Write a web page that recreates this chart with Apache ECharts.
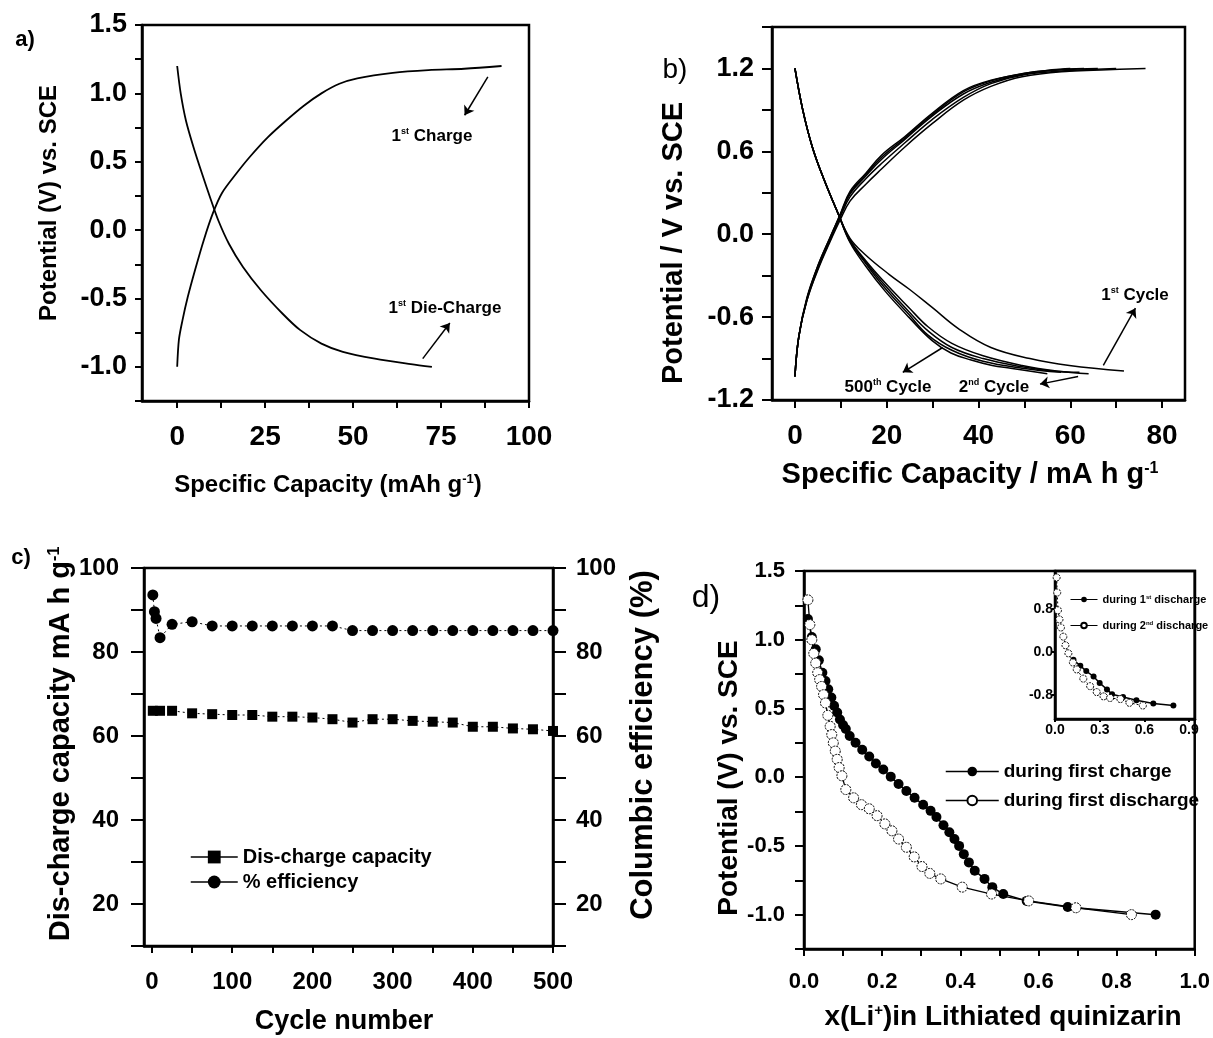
<!DOCTYPE html>
<html>
<head>
<meta charset="utf-8">
<script src="https://cdn.jsdelivr.net/npm/echarts@6/dist/echarts.min.js"></script>
<style>
html, body { margin: 0; padding: 0; background: #fff; }
#chart { width: 1213px; height: 1038px; }
</style>
</head>
<body>
<div id="chart"></div>
<script>
/* 面板 a：首次充放电曲线 */
var aChargeX = [0, 0.5, 1.5, 3.0, 5.1, 7.6, 10.1, 12.7, 16.7, 20.8, 25.8, 30.9, 36, 41, 46.1, 51.2, 61.3, 71.4, 81.6, 92.2];
var aChargeY = [-1.0, -0.80, -0.66, -0.49, -0.29, -0.07, 0.12, 0.27, 0.41, 0.54, 0.68, 0.80, 0.91, 1.0, 1.07, 1.11, 1.15, 1.17, 1.18, 1.2];
var aDisX = [0, 1.0, 2.5, 4.6, 7.1, 9.6, 11.7, 14.7, 18.7, 23.8, 29.9, 34.9, 41, 47.1, 56.2, 66.4, 72.4];
var aDisY = [1.2, 1.0, 0.80, 0.61, 0.41, 0.22, 0.07, -0.10, -0.27, -0.44, -0.61, -0.73, -0.83, -0.89, -0.94, -0.98, -1.0];
var aXLabels = [0, 25, 50, 75, 100];
var aXTicks = [0, 12.5, 25, 37.5, 50, 62.5, 75, 87.5, 100];
var aYLabels = [-1.0, -0.5, 0.0, 0.5, 1.0, 1.5];
var aYTicks = [-1.25, -1.0, -0.75, -0.5, -0.25, 0, 0.25, 0.5, 0.75, 1.0, 1.25, 1.5];

/* 面板 b：多次循环 */
var bCharge1 = [[0,-1.03],[0.85,-0.74],[2.6,-0.48],[5.1,-0.25],[7.7,-0.05],[9.8,0.1],[12,0.24],[15.4,0.36],[18.8,0.47],[23.9,0.63],[29.9,0.8],[36.7,0.97],[42.7,1.07],[49.5,1.14],[59.8,1.18],[68,1.19],[76.4,1.2]];
var bCharge2 = [[0,-1.03],[0.85,-0.74],[2.6,-0.48],[5.1,-0.24],[7.7,-0.04],[9.8,0.12],[12,0.27],[15.4,0.4],[18.8,0.51],[23.9,0.66],[29.9,0.83],[36.7,0.99],[42.7,1.09],[50,1.155],[60,1.185],[70,1.2]];
var bCharge100 = [[0,-1.03],[0.85,-0.74],[2.6,-0.47],[5.1,-0.23],[7.7,-0.03],[9.8,0.13],[12,0.29],[15.4,0.42],[18.8,0.54],[23.9,0.685],[29.9,0.855],[36.7,1.015],[42.7,1.1],[50,1.16],[58,1.19],[66,1.2]];
var bCharge250 = [[0,-1.03],[0.85,-0.74],[2.6,-0.47],[5.1,-0.22],[7.7,-0.02],[9.8,0.135],[12,0.3],[15.4,0.43],[18.8,0.555],[23.9,0.695],[29.9,0.865],[36.7,1.03],[42.7,1.11],[50,1.165],[57,1.19],[63,1.2]];
var bCharge500 = [[0,-1.03],[0.85,-0.74],[2.6,-0.46],[5.1,-0.22],[7.7,-0.02],[9.8,0.14],[12,0.31],[15.4,0.44],[18.8,0.57],[23.9,0.705],[29.9,0.875],[36.7,1.04],[42.7,1.115],[51.2,1.17],[56,1.19],[60,1.2]];
var bDis1 = [[0,1.2],[1.7,0.9],[3.8,0.63],[6.4,0.39],[9.4,0.15],[12,-0.03],[15.4,-0.15],[20.5,-0.29],[25,-0.4],[29.9,-0.53],[35.9,-0.69],[42.7,-0.82],[51.2,-0.9],[59.8,-0.95],[71.7,-0.99]];
var bDis2 = [[0,1.2],[1.7,0.9],[3.8,0.63],[6.4,0.39],[9.4,0.15],[12,-0.04],[15.4,-0.19],[19.6,-0.35],[24.8,-0.53],[29,-0.67],[34.2,-0.79],[41,-0.88],[49.5,-0.95],[57,-0.99],[64,-1.01]];
var bDis100 = [[0,1.2],[1.7,0.9],[3.8,0.63],[6.4,0.39],[9.4,0.15],[12,-0.05],[15.4,-0.2],[19.6,-0.37],[24.8,-0.56],[29,-0.7],[34.2,-0.82],[41,-0.9],[49.5,-0.96],[56,-0.99],[62,-1.0]];
var bDis250 = [[0,1.2],[1.7,0.9],[3.8,0.63],[6.4,0.39],[9.4,0.15],[12,-0.05],[15.4,-0.21],[19.6,-0.39],[24.8,-0.58],[29,-0.73],[34.2,-0.84],[41,-0.92],[49.5,-0.97],[58,-1.0]];
var bDis500 = [[0,1.2],[1.7,0.9],[3.8,0.63],[6.4,0.39],[9.4,0.15],[12,-0.06],[15.4,-0.23],[19.6,-0.41],[24.8,-0.6],[29.9,-0.77],[34,-0.86],[38.4,-0.91],[43,-0.95],[47,-0.97],[55,-1.01]];
var bXLabels = [0, 20, 40, 60, 80];
var bXTicks = [0, 10, 20, 30, 40, 50, 60, 70, 80];
var bYLabels = [-1.2, -0.6, 0.0, 0.6, 1.2];
var bYTicks = [-1.2, -0.9, -0.6, -0.3, 0, 0.3, 0.6, 0.9, 1.2, 1.5];

/* 面板 c：循环性能 */
var capX = [1, 10, 25, 50, 75, 100, 125, 150, 175, 200, 225, 250, 275, 300, 325, 350, 375, 400, 425, 450, 475, 500];
var capY = [66, 66, 66, 65.4, 65.2, 65, 65, 64.6, 64.6, 64.4, 64, 63.2, 64, 64, 63.6, 63.4, 63.2, 62.2, 62.2, 61.8, 61.6, 61.2];
var effX = [1, 3, 5, 10, 25, 50, 75, 100, 125, 150, 175, 200, 225, 250, 275, 300, 325, 350, 375, 400, 425, 450, 475, 500];
var effY = [93.6, 89.6, 88, 83.4, 86.6, 87.2, 86.2, 86.2, 86.2, 86.2, 86.2, 86.2, 86.2, 85.1, 85.1, 85.1, 85.1, 85.1, 85.1, 85.1, 85.1, 85.1, 85.1, 85.1];
var cXLabels = [0, 100, 200, 300, 400, 500];
var cXTicks = [0, 50, 100, 150, 200, 250, 300, 350, 400, 450, 500];
var cYLabels = [20, 40, 60, 80, 100];
var cYTicks = [10, 20, 30, 40, 50, 60, 70, 80, 90, 100];

/* 面板 d：锂化程度 */
var dChargeX = [0.01,0.02,0.03,0.038,0.047,0.055,0.062,0.07,0.077,0.085,0.092,0.1,0.107,0.117,0.132,0.149,0.167,0.184,0.203,0.222,0.242,0.262,0.283,0.305,0.324,0.339,0.357,0.372,0.385,0.397,0.409,0.422,0.437,0.462,0.482,0.51,0.57,0.675,0.9];
var dChargeY = [1.15,1.02,0.93,0.85,0.76,0.70,0.64,0.58,0.52,0.47,0.42,0.38,0.35,0.30,0.25,0.20,0.15,0.10,0.056,0.004,-0.05,-0.10,-0.15,-0.20,-0.245,-0.29,-0.35,-0.40,-0.45,-0.50,-0.56,-0.62,-0.68,-0.74,-0.80,-0.85,-0.90,-0.945,-1.0];
var dDisX = [0.01,0.015,0.02,0.025,0.03,0.035,0.04,0.045,0.05,0.055,0.061,0.067,0.071,0.075,0.08,0.085,0.09,0.097,0.107,0.127,0.147,0.167,0.187,0.207,0.225,0.242,0.262,0.282,0.302,0.322,0.35,0.405,0.48,0.575,0.696,0.838];
var dDisY = [1.29,1.11,1.0,0.90,0.83,0.76,0.71,0.66,0.60,0.54,0.45,0.37,0.31,0.25,0.19,0.13,0.07,0.01,-0.09,-0.15,-0.20,-0.23,-0.28,-0.34,-0.39,-0.45,-0.51,-0.58,-0.65,-0.70,-0.74,-0.80,-0.85,-0.90,-0.95,-1.0];
var dXLabels = [0, 0.2, 0.4, 0.6, 0.8, 1.0];
var dXTicks = [0, 0.1, 0.2, 0.3, 0.4, 0.5, 0.6, 0.7, 0.8, 0.9, 1.0];
var dYLabels = [-1.0, -0.5, 0.0, 0.5, 1.0, 1.5];
var dYTicks = [-1.25, -1.0, -0.75, -0.5, -0.25, 0, 0.25, 0.5, 0.75, 1.0, 1.25, 1.5];

/* 插图 */
var inDis1X = [0.124, 0.17, 0.21, 0.259, 0.3, 0.349, 0.383, 0.457, 0.547, 0.66, 0.795];
var inDis1Y = [-0.15, -0.26, -0.36, -0.46, -0.58, -0.70, -0.79, -0.84, -0.90, -0.96, -1.0];
var inDis2X = [0.011, 0.015, 0.02, 0.03, 0.04, 0.056, 0.07, 0.09, 0.12, 0.146, 0.19, 0.236, 0.28, 0.326, 0.37, 0.439, 0.5, 0.59];
var inDis2Y = [1.38, 1.1, 0.77, 0.6, 0.45, 0.28, 0.12, -0.03, -0.2, -0.33, -0.5, -0.64, -0.75, -0.83, -0.86, -0.88, -0.95, -1.0];
var inXLabels = [0, 0.3, 0.6, 0.9];
var inYLabels = [-0.8, 0.0, 0.8];

var FONT = 'Liberation Sans';

function pairs(xs, ys) {
    return xs.map(function (x, i) { return [x, ys[i]]; });
}

function fixed1(v) { return Number(v).toFixed(1); }
function plain(v) { return String(v); }

function axis(o) {
    return {
        type: 'value', gridIndex: o.grid, min: o.min, max: o.max, position: o.position,
        axisLine: { show: true, onZero: false, lineStyle: { color: '#000', width: 2.5 } },
        axisTick: { show: true, inside: false, length: o.tickLen, customValues: o.ticks, lineStyle: { color: '#000', width: 2 } },
        axisLabel: {
            customValues: o.labels, margin: o.margin, color: '#000', fontFamily: FONT,
            fontWeight: 'bold', fontSize: o.fontSize, formatter: o.fmt
        },
        splitLine: { show: false }
    };
}

function text(x, y, str, size, weight, rotate) {
    return {
        type: 'text', x: x, y: y, rotation: rotate ? Math.PI / 2 : 0,
        style: {
            text: str, fill: '#000', fontFamily: FONT, fontSize: size, fontWeight: weight,
            align: 'center', verticalAlign: 'middle', textAlign: 'center', textVerticalAlign: 'middle',
            rich: {
                sup: { fontFamily: FONT, fontSize: Math.round(size * 0.55), fontWeight: weight, fill: '#000', verticalAlign: 'top' }
            }
        }
    };
}

function arrows(list) {
    return {
        silent: true, symbol: ['none', 'arrow'], symbolSize: 9, animation: false,
        label: { show: false },
        lineStyle: { color: '#000', width: 1.5, type: 'solid' },
        data: list.map(function (a) { return [{ coord: a[0] }, { coord: a[1] }]; })
    };
}

function curve(data, xi, yi, width, smooth) {
    return {
        type: 'line', xAxisIndex: xi, yAxisIndex: yi, data: data, showSymbol: false, symbol: 'none',
        smooth: smooth, lineStyle: { color: '#000', width: width }, silent: true
    };
}

var chart = echarts.init(document.getElementById('chart'));

var series = [];
var sa1 = curve(pairs(aChargeX, aChargeY), 0, 0, 1.8, 0.3);
sa1.markLine = arrows([[[88.3, 1.12], [81.7, 0.84]], [[69.8, -0.94], [77.5, -0.68]]]);
series.push(sa1);
series.push(curve(pairs(aDisX, aDisY), 0, 0, 1.8, 0.3));

var bAll = [bCharge1, bCharge2, bCharge100, bCharge250, bCharge500, bDis1, bDis2, bDis100, bDis250, bDis500];
bAll.forEach(function (d, i) {
    var s = curve(d, 1, 1, 1.5, 0.4);
    if (i === 0) {
        s.markLine = arrows([
            [[67.2, -0.95], [74.2, -0.535]],
            [[61.7, -1.03], [53.4, -1.085]],
            [[32.2, -0.82], [23.5, -1.0]]
        ]);
    }
    series.push(s);
});

series.push({
    name: 'Dis-charge capacity', type: 'line', xAxisIndex: 2, yAxisIndex: 2,
    data: pairs(capX, capY), symbol: 'rect', symbolSize: 10,
    itemStyle: { color: '#000' }, lineStyle: { color: '#000', width: 1, type: [2, 3] }
});
series.push({
    name: '% efficiency', type: 'line', xAxisIndex: 2, yAxisIndex: 3,
    data: pairs(effX, effY), symbol: 'circle', symbolSize: 11,
    itemStyle: { color: '#000' }, lineStyle: { color: '#000', width: 1, type: [2, 3] }
});

series.push({
    name: 'during first charge', type: 'line', xAxisIndex: 3, yAxisIndex: 4,
    data: pairs(dChargeX, dChargeY), symbol: 'circle', symbolSize: 10,
    itemStyle: { color: '#000' }, lineStyle: { color: '#000', width: 1.5 }
});
series.push({
    name: 'during first discharge', type: 'line', xAxisIndex: 3, yAxisIndex: 4,
    data: pairs(dDisX, dDisY), symbol: 'circle', symbolSize: 10,
    itemStyle: { color: '#fff', borderColor: '#000', borderWidth: 1, borderType: [2, 1] },
    lineStyle: { color: '#000', width: 1.3 }
});

series.push({
    name: 'during 1st discharge', type: 'line', xAxisIndex: 4, yAxisIndex: 5,
    data: pairs(inDis1X, inDis1Y), symbol: 'circle', symbolSize: 6,
    itemStyle: { color: '#000' }, lineStyle: { color: '#000', width: 1.5 }
});
series.push({
    name: 'during 2nd discharge', type: 'line', xAxisIndex: 4, yAxisIndex: 5,
    data: pairs(inDis2X, inDis2Y), symbol: 'circle', symbolSize: 7,
    itemStyle: { color: '#fff', borderColor: '#000', borderWidth: 1, borderType: [2, 1] },
    lineStyle: { color: '#000', width: 1, type: [2, 2] }
});

var gridBox = { show: true, borderColor: '#000', borderWidth: 2.5, backgroundColor: 'transparent' };

var option = {
    backgroundColor: '#fff',
    animation: false,
    grid: [
        Object.assign({ left: 142, top: 25, width: 387, height: 376 }, gridBox),
        Object.assign({ left: 772, top: 27, width: 413, height: 373 }, gridBox),
        Object.assign({ left: 144, top: 568, width: 409, height: 378 }, gridBox),
        Object.assign({ left: 804, top: 571, width: 391, height: 378 }, gridBox),
        Object.assign({ left: 1055, top: 571, width: 140, height: 148 }, gridBox)
    ],
    xAxis: [
        axis({ grid: 0, min: -10, max: 100, labels: aXLabels, ticks: aXTicks, tickLen: 7, margin: 22, fontSize: 28, fmt: plain }),
        axis({ grid: 1, min: -5, max: 85, labels: bXLabels, ticks: bXTicks, tickLen: 8, margin: 22, fontSize: 28, fmt: plain }),
        axis({ grid: 2, min: -10, max: 500, labels: cXLabels, ticks: cXTicks, tickLen: 7, margin: 24, fontSize: 24, fmt: plain }),
        axis({ grid: 3, min: 0, max: 1.0, labels: dXLabels, ticks: dXTicks, tickLen: 7, margin: 22, fontSize: 22, fmt: fixed1 }),
        axis({ grid: 4, min: 0, max: 0.94, labels: inXLabels, ticks: inXLabels, tickLen: 3, margin: 4, fontSize: 14, fmt: fixed1 })
    ],
    yAxis: [
        axis({ grid: 0, min: -1.25, max: 1.5, labels: aYLabels, ticks: aYTicks, tickLen: 7, margin: 15, fontSize: 27, fmt: fixed1 }),
        axis({ grid: 1, min: -1.2, max: 1.5, labels: bYLabels, ticks: bYTicks, tickLen: 10, margin: 18, fontSize: 27, fmt: fixed1 }),
        axis({ grid: 2, min: 10, max: 100, labels: cYLabels, ticks: cYTicks, tickLen: 13, margin: 25, fontSize: 24, fmt: plain }),
        axis({ grid: 2, min: 10, max: 100, position: 'right', labels: cYLabels, ticks: cYTicks, tickLen: 13, margin: 23, fontSize: 24, fmt: plain }),
        axis({ grid: 3, min: -1.25, max: 1.5, labels: dYLabels, ticks: dYTicks, tickLen: 9, margin: 19, fontSize: 22, fmt: fixed1 }),
        axis({ grid: 4, min: -1.25, max: 1.5, labels: inYLabels, ticks: inYLabels, tickLen: 3, margin: 2, fontSize: 14, fmt: fixed1 })
    ],
    legend: [
        {
            data: ['Dis-charge capacity', '% efficiency'], orient: 'vertical', left: 185, top: 842,
            itemWidth: 47, itemHeight: 16, itemGap: 5, selectedMode: false,
            lineStyle: { type: 'solid', width: 1.5 },
            textStyle: { color: '#000', fontFamily: FONT, fontWeight: 'bold', fontSize: 20 }
        },
        {
            data: ['during first charge', 'during first discharge'], orient: 'vertical', left: 940, top: 757,
            itemWidth: 53, itemHeight: 12, itemGap: 10, selectedMode: false,
            lineStyle: { type: 'solid', width: 1.5 },
            textStyle: { color: '#000', fontFamily: FONT, fontWeight: 'bold', fontSize: 19 }
        },
        {
            data: ['during 1st discharge', 'during 2nd discharge'], orient: 'vertical', left: 1065, top: 589,
            itemWidth: 27, itemHeight: 7, itemGap: 15, selectedMode: false, z: 10,
            lineStyle: { type: 'solid', width: 1 },
            formatter: function (name) { return name.replace(/1st/, '1{s|st}').replace(/2nd/, '2{s|nd}'); },
            textStyle: {
                color: '#000', fontFamily: FONT, fontWeight: 'bold', fontSize: 11,
                rich: { s: { fontSize: 6, fontWeight: 'bold', fontFamily: FONT, color: '#000', verticalAlign: 'top' } }
            }
        }
    ],
    series: series,
    graphic: {
        elements: [
            text(25, 40, 'a)', 22, 'bold'),
            text(675, 70, 'b)', 28, 'normal'),
            text(21, 558, 'c)', 22, 'bold'),
            text(706, 598, 'd)', 32, 'normal'),

            text(328, 485, 'Specific Capacity (mAh g{sup|-1})', 24, 'bold'),
            text(49, 203, 'Potential (V) vs. SCE', 24, 'bold', true),
            text(970, 475, 'Specific Capacity / mA h g{sup|-1}', 29, 'bold'),
            text(674, 243, 'Potential / V vs. SCE', 29, 'bold', true),
            text(61, 744, 'Dis-charge capacity mA h g{sup|-1}', 29, 'bold', true),
            text(344, 1022, 'Cycle number', 27, 'bold'),
            text(643, 745, 'Columbic efficiency (%)', 31, 'bold', true),
            text(729, 778, 'Potential (V) vs. SCE', 28, 'bold', true),
            text(1003, 1017, 'x(Li{sup|+})in Lithiated quinizarin', 28, 'bold'),

            text(432, 136, '1{sup|st} Charge', 17, 'bold'),
            text(445, 308, '1{sup|st} Die-Charge', 17, 'bold'),
            text(1135, 295, '1{sup|st} Cycle', 17, 'bold'),
            text(888, 387, '500{sup|th} Cycle', 17, 'bold'),
            text(994, 387, '2{sup|nd} Cycle', 17, 'bold')
        ]
    }
};

chart.setOption(option);
</script>
</body>
</html>
